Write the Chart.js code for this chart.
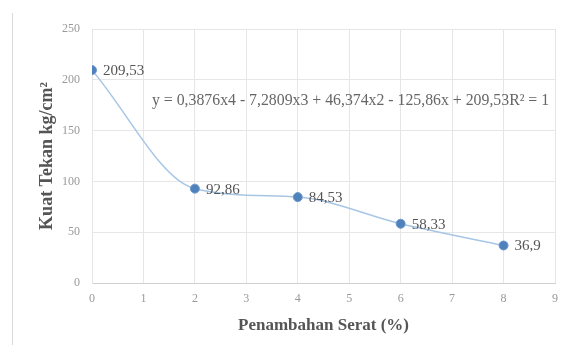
<!DOCTYPE html>
<html>
<head>
<meta charset="utf-8">
<script src="https://cdn.jsdelivr.net/npm/chart.js@4/dist/chart.umd.min.js"></script>
<style>
html,body{margin:0;padding:0;background:#fff;}
#wrap{position:relative;width:563px;height:345px;}
#frame{position:absolute;left:12px;top:13px;width:0;height:332px;border-left:1px solid #d9d9d9;}
canvas{position:absolute;left:0;top:0;}
</style>
</head>
<body>
<div id="wrap">
<div id="frame"></div>
<canvas id="c" width="563" height="345"></canvas>
</div>
<script>
const fiberPercent = [0, 2, 4, 6, 8];
const strength = [209.53, 92.86, 84.53, 58.33, 36.9];
const pointLabels = ["209,53", "92,86", "84,53", "58,33", "36,9"];
const xTickValues = [0, 1, 2, 3, 4, 5, 6, 7, 8, 9];
const yTickValues = [0, 50, 100, 150, 200, 250];
const equationText = "y = 0,3876x4 - 7,2809x3 + 46,374x2 - 125,86x + 209,53R\u00B2 = 1";
const xTitle = "Penambahan Serat (%)";
const yTitle = "Kuat Tekan kg/cm\u00B2";

const serif = "'Liberation Serif', 'Times New Roman', serif";

const labelPlugin = {
  id: 'labels',
  afterDatasetsDraw(chart) {
    const ctx = chart.ctx;
    const meta = chart.getDatasetMeta(0);
    ctx.save();
    ctx.font = "15px " + serif;
    ctx.fillStyle = "#555";
    ctx.textBaseline = "middle";
    ctx.textAlign = "left";
    meta.data.forEach((pt, i) => {
      ctx.fillText(pointLabels[i], pt.x + 11, pt.y + 1);
    });
    ctx.font = "15.8px " + serif;
    ctx.fillStyle = "#666";
    ctx.fillText(equationText, 152, 101);
    ctx.restore();
  }
};

new Chart(document.getElementById('c'), {
  type: 'scatter',
  data: {
    datasets: [{
      data: fiberPercent.map((x, i) => ({x: x, y: strength[i]})),
      showLine: true,
      borderColor: '#a7c6e6',
      borderWidth: 1.5,
      cubicInterpolationMode: 'monotone',
      pointRadius: 4.5,
      pointBackgroundColor: '#4f81bd',
      pointBorderColor: '#6d98cc',
      pointBorderWidth: 1
    }]
  },
  options: {
    responsive: false,
    animation: false,
    devicePixelRatio: 1,
    layout: {padding: {left: 33, top: 29, right: 8, bottom: 0}},
    plugins: {legend: {display: false}, tooltip: {enabled: false}},
    scales: {
      x: {
        type: 'linear', min: 0, max: 9,
        afterBuildTicks: s => { s.ticks = xTickValues.map(v => ({value: v})); },
        afterFit: s => { s.height = 62; s.paddingRight = 0; s.paddingLeft = 0; },
        ticks: {font: {family: serif, size: 12}, color: '#999', padding: 9},
        grid: {color: '#e6e6e6', drawTicks: false},
        border: {color: '#d0d0d0'},
        title: {display: true, text: xTitle, font: {family: serif, size: 17, weight: 'bold'}, color: '#555', padding: {top: 0, bottom: 9}}
      },
      y: {
        min: 0, max: 250,
        afterBuildTicks: s => { s.ticks = yTickValues.map(v => ({value: v})); },
        afterFit: s => { s.width = 59; },
        ticks: {font: {family: serif, size: 12}, color: '#999', padding: 12},
        grid: {color: '#e6e6e6', drawTicks: false},
        border: {color: '#e6e6e6'},
        title: {display: true, text: yTitle, font: {family: serif, size: 18, weight: 'bold'}, color: '#555', padding: {bottom: 4}}
      }
    }
  },
  plugins: [labelPlugin]
});
</script>
</body>
</html>
